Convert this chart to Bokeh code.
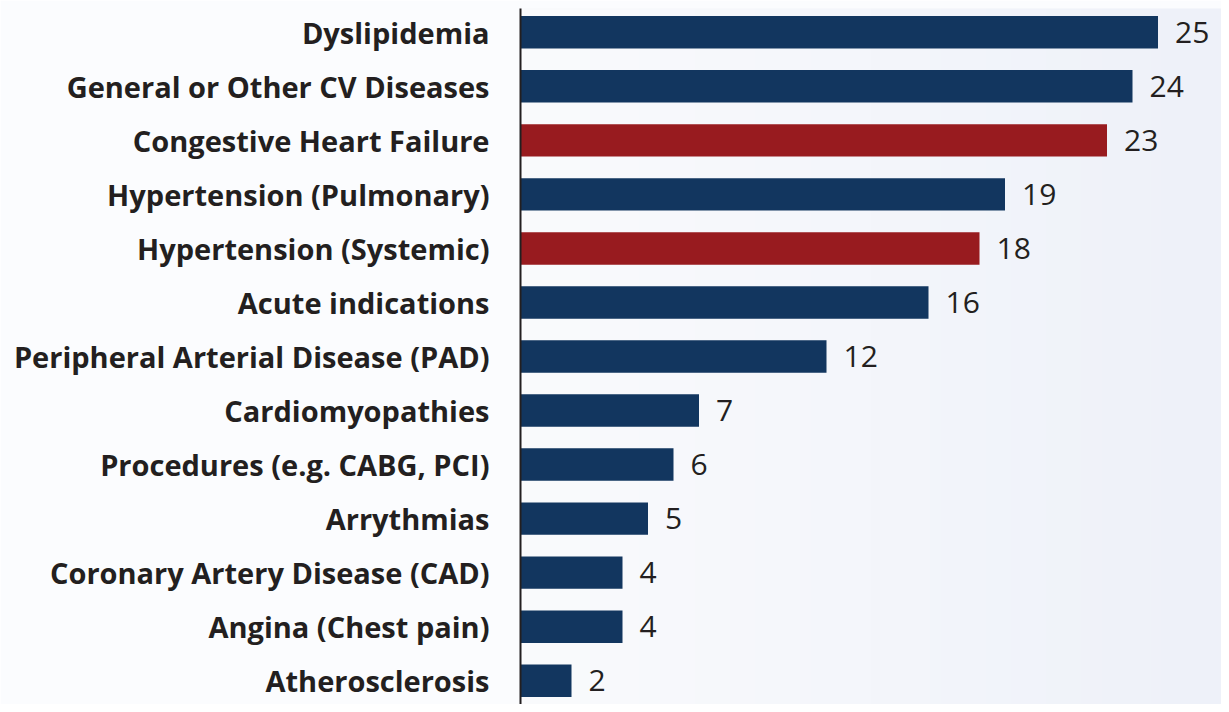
import numpy as np
from bokeh.plotting import figure
from bokeh.models import FactorRange, Range1d, ColumnDataSource
from bokeh.core.properties import value
from bokeh.embed import file_html
from bokeh.resources import INLINE

categories = [
    "Dyslipidemia",
    "General or Other CV Diseases",
    "Congestive Heart Failure",
    "Hypertension (Pulmonary)",
    "Hypertension (Systemic)",
    "Acute indications",
    "Peripheral Arterial Disease (PAD)",
    "Cardiomyopathies",
    "Procedures (e.g. CABG, PCI)",
    "Arrythmias",
    "Coronary Artery Disease (CAD)",
    "Angina (Chest pain)",
    "Atherosclerosis",
]
counts = [25, 24, 23, 19, 18, 16, 12, 7, 6, 5, 4, 4, 2]
highlighted = ["Congestive Heart Failure", "Hypertension (Systemic)"]

NAVY = "#12365F"
RED = "#981B1F"
TEXT = "#231F20"

colors = [RED if c in highlighted else NAVY for c in categories]
labels = [str(v) for v in counts]
src = ColumnDataSource(dict(cat=categories, val=counts, color=colors, label=labels))

W, H = 1221, 704
LEFT = 520
x_end = 27.49

yr = FactorRange(factors=categories[::-1], range_padding=-0.06, range_padding_units="absolute")
p = figure(width=W, height=H, y_range=yr, x_range=Range1d(0, x_end),
           output_backend="svg", toolbar_location=None,
           min_border_left=LEFT, min_border_right=0, min_border_top=8, min_border_bottom=0)

# subtle horizontal background gradient
n = 200
c0 = np.array([0xFA, 0xFB, 0xFD]); c1 = np.array([0xEE, 0xF1, 0xF9])
t = np.linspace(0, 1, n)
rgb = (c0[None, :] * (1 - t[:, None]) + c1[None, :] * t[:, None]).astype(np.uint32)
row = (255 << 24) | (rgb[:, 2] << 16) | (rgb[:, 1] << 8) | rgb[:, 0]
img = np.tile(row, (2, 1)).astype(np.uint32)
p.image_rgba(image=[img], x=0, y=0, dw=x_end, dh=len(categories), level="image")

p.hbar(y="cat", right="val", left=0, height=0.6, color="color", source=src, line_color=None)
p.text(x="val", y="cat", text="label", source=src, x_offset=17,
       text_baseline="middle", text_align="left", text_color=TEXT,
       text_font=value("Open Sans"), text_font_size="30px")

p.background_fill_color = "#FAFBFD"
p.border_fill_color = "#FBFCFE"
p.outline_line_color = None
p.grid.visible = False
p.xaxis.visible = False

ya = p.yaxis[0]
ya.axis_line_color = TEXT
ya.axis_line_width = 2
ya.major_tick_line_color = None
ya.minor_tick_line_color = None
ya.major_tick_out = 0
ya.major_label_standoff = 31
ya.major_label_text_font = "Open Sans"
ya.major_label_text_font_style = "bold"
ya.major_label_text_font_size = "29px"
ya.major_label_text_color = TEXT

open("out.html", "w").write(file_html(p, INLINE))
